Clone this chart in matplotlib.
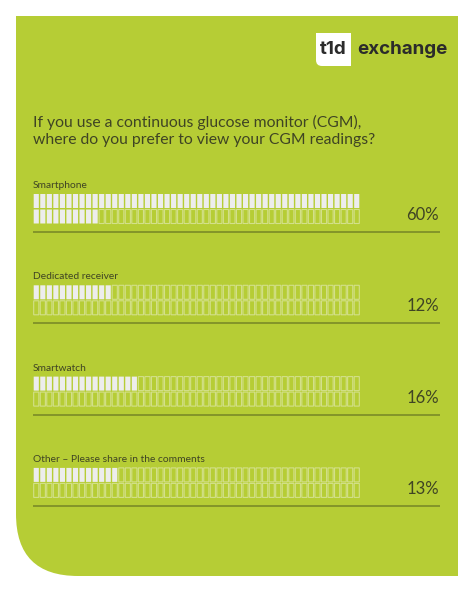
import numpy as np
import matplotlib.pyplot as plt
from matplotlib.path import Path
from matplotlib.patches import PathPatch

# Survey answers and share of respondents (percent)
categories = ["Smartphone", "Dedicated receiver", "Smartwatch",
              "Other \u2013 Please share in the comments"]
percents = [60, 12, 16, 13]
title = ("If you use a continuous glucose monitor (CGM),\n"
         "where do you prefer to view your CGM readings?")

W, H = 474, 592
green = "#b6cd35"
dark = "#3f4424"
cell_fill = "#ededed"
cell_edge = "#d3e08a"
line_col = "#7f9128"
font = "Lato"

fig = plt.figure(figsize=(W / 100, H / 100), dpi=100)
ax = fig.add_axes([0, 0, 1, 1])
ax.set_xlim(0, W)
ax.set_ylim(H, 0)
ax.axis("off")

# green panel with a big rounded bottom-left corner
x0, x1, y0, y1, r = 16, 458, 16, 576, 62
verts = [(x0, y0), (x1, y0), (x1, y1), (x0 + r, y1), (x0, y1), (x0, y1 - r), (x0, y0)]
codes = [Path.MOVETO, Path.LINETO, Path.LINETO, Path.LINETO, Path.CURVE3, Path.CURVE3, Path.CLOSEPOLY]
ax.add_patch(PathPatch(Path(verts, codes), facecolor=green, edgecolor="none"))

# logo
lx0, lx1, ly0, ly1, lr = 316, 351, 33, 66, 6
verts = [(lx0, ly0), (lx1, ly0), (lx1, ly1), (lx0 + lr, ly1), (lx0, ly1), (lx0, ly1 - lr), (lx0, ly0)]
ax.add_patch(PathPatch(Path(verts, codes), facecolor="white", edgecolor="none"))
ax.text(333.5, 50, "t1d", ha="center", va="center", fontsize=13.5, fontweight="bold",
        color="#2b2b2b", family="Inter")
ax.text(357, 50, "exchange", ha="left", va="center", fontsize=13.5, fontweight="bold",
        color="#2b2b2b", family="Inter")

# question
ax.text(33, 131, title, ha="left", va="center", fontsize=11.3, color=dark,
        family=font, linespacing=1.25)

# bars: 2 rows x 50 cells = 100 cells, one per percent
ncol = 50
gx0, gx1 = 33, 360
pitch = (gx1 - gx0) / ncol
cw = pitch - 1.4
ch = 14
group_top = 194
group_step = 91.3
for i, (cat, p) in enumerate(zip(categories, percents)):
    top = group_top + i * group_step
    ax.text(gx0, top - 4, cat, ha="left", va="bottom", fontsize=7.4, color=dark, family=font)
    for k in range(100):
        row, col = divmod(k, ncol)
        x = gx0 + col * pitch + 0.7
        y = top + row * (ch + 1.5)
        if k < p:
            ax.add_patch(plt.Rectangle((x, y), cw, ch, facecolor=cell_fill, edgecolor="none",
                                       snap=False))
        else:
            ax.add_patch(plt.Rectangle((x, y), cw, ch, facecolor="none", edgecolor=cell_edge,
                                       lw=0.8, snap=False))
    ax.text(439, top + 2 * ch + 1, f"{p}%", ha="right", va="bottom", fontsize=12, color=dark,
            family=font)
    ax.plot([gx0, 440], [top + 38, top + 38], color=line_col, lw=1.3, solid_capstyle="butt")

fig.savefig("out.png", dpi=100, facecolor="white")
